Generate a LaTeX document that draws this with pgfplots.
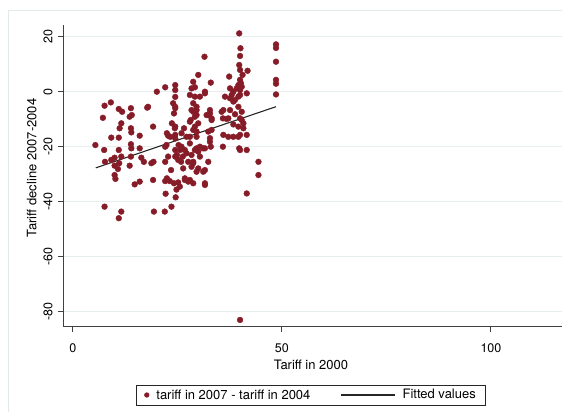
\documentclass[border=0pt]{standalone}
\usepackage{fontspec}
\setmainfont{TeX Gyre Heros}
\usepackage{pgfplots}
\pgfplotsset{compat=1.18}
\definecolor{mk}{RGB}{134,28,40}
\definecolor{gridc}{RGB}{230,238,240}
\definecolor{framec}{RGB}{226,234,236}
\begin{document}
\begin{tikzpicture}
\useasboundingbox (0pt,0pt) rectangle (562pt,412pt);
\draw[framec, line width=0.8pt] (8pt,0pt) -- (8pt,402pt) -- (562pt,402pt);
\begin{axis}[
  at={(63.3pt,85.3pt)}, anchor=south west,
  scale only axis, width=498.7pt, height=301.7pt,
  xmin=-2.27, xmax=117, ymin=-85.45, ymax=24.25,
  axis x line*=bottom, axis y line*=left,
  axis line style={black!75, line width=1pt, -},
  xtick={0,50,100},
  ytick={-80,-60,-40,-20,0,20},
  tick align=outside, major tick length=5pt,
  tick style={black!75, line width=1pt},
  ymajorgrids, grid style={gridc, line width=1pt},
  /pgf/number format/assume math mode=true,
  tick label style={font=\fontsize{12.5}{14}\selectfont},
  yticklabel style={rotate=90, anchor=south, inner sep=5.5pt},
  xticklabel style={anchor=north, inner sep=0pt, yshift=-11.8pt},
  xlabel={Tariff in 2000},
  ylabel={Tariff decline 2007-2004},
  label style={font=\fontsize{13}{15}\selectfont},
  xlabel style={at={(axis description cs:0.4967,-0.1253)}, anchor=center},
  ylabel style={at={(axis description cs:-0.0634,0.526)}, anchor=center},
  legend columns=2,
  legend style={at={(axis description cs:0.4967,-0.2264)}, anchor=center,
    draw=black!85, line width=0.8pt, inner xsep=8pt, inner ysep=2.5pt,
    font=\fontsize{13}{15}\selectfont,
    /tikz/every odd column/.append style={column sep=5pt},
    /tikz/every even column/.append style={column sep=28pt}},
]
\addplot[only marks, mark=*, mark size=2.9pt, color=mk,
  mark options={draw=none, fill=mk},
  legend image code/.code={\fill[mk] (0pt,0pt) circle (2.2pt);}]
table {
x y
7.6 -5.1
9.1 -3.9
7.2 -9.5
11.0 -6.3
11.8 -7.3
13.9 -6.0
13.6 -9.1
17.8 -5.8
11.6 -11.5
11.2 -13.3
9.2 -16.7
11.0 -16.7
13.9 -13.3
14.0 -14.8
16.0 -16.0
19.2 -12.7
5.4 -19.4
7.5 -21.2
11.0 -21.2
13.9 -19.1
14.0 -20.6
16.0 -20.6
10.0 -24.0
9.2 -24.8
11.6 -23.6
13.9 -23.6
16.4 -24.0
17.0 -25.5
18.8 -26.0
10.0 -26.9
13.6 -26.9
10.8 -28.1
10.0 -30.3
10.2 -31.7
14.8 -33.7
16.0 -32.7
19.2 -32.1
7.6 -41.8
11.6 -43.6
11.0 -46.0
19.4 -43.6
22.0 -43.6
22.2 -37.1
24.6 -38.4
23.6 -41.8
22.1 -32.5
23.2 -32.5
24.2 -33.3
25.2 -33.0
24.8 -35.6
23.5 -28.5
22.4 -19.4
22.8 -16.0
24.4 -13.3
24.5 -6.0
24.2 -7.9
24.5 -17.0
24.5 -21.2
24.5 -23.6
25.3 -19.4
7.7 -25.5
11.1 -26.0
19.3 -25.5
20.1 0.0
22.1 1.6
24.5 2.4
24.5 0.6
24.5 -1.9
18.0 -5.5
14.1 -8.5
24.5 -5.5
24.0 -4.2
23.7 -11.5
22.5 -15.1
22.1 -20.0
22.8 -23.6
25.2 -24.8
22.5 -31.5
25.6 -34.5
25.7 -21.2
24.9 -23.0
25.9 -25.5
27.2 -22.4
29.2 -21.2
30.0 -21.8
27.6 -25.5
28.8 -26.0
28.4 -27.3
22.1 -25.5
26.8 -32.1
27.6 -32.7
28.8 -33.3
31.6 -33.3
32.4 -25.5
31.2 -29.1
29.6 -29.1
28.0 -1.2
29.2 -1.8
28.8 -4.2
28.4 -6.7
29.6 -6.7
29.2 -9.1
28.0 -10.9
30.0 -11.5
28.8 -13.9
27.2 -16.4
29.6 -16.4
28.0 -18.8
26.8 -21.2
29.6 -20.6
28.4 -23.0
30.4 -23.6
28.8 -25.5
30.0 -27.9
31.6 -28.5
26.8 -31.5
28.0 -32.1
31.6 -33.9
31.6 -20.6
32.8 -18.2
33.2 -13.9
32.4 -8.5
32.8 -6.7
26.0 -15.1
26.0 -20.0
26.3 -23.6
26.4 -27.9
31.5 12.7
30.0 6.1
28.8 3.6
29.2 1.6
31.6 0.0
33.0 3.3
29.6 -5.5
28.8 -7.3
29.6 -8.5
32.0 -8.5
33.2 -9.7
28.2 -10.3
29.2 -12.7
26.6 -13.3
24.5 -12.7
29.6 -14.5
28.0 -16.4
24.5 -15.7
23.3 -16.4
32.4 -14.5
30.4 -20.0
28.4 1.2
30.4 -1.8
31.6 -0.6
39.8 21.2
40.1 15.8
40.0 13.0
39.8 9.7
40.0 7.9
40.6 6.1
41.8 7.6
40.0 4.3
37.4 5.5
39.6 2.4
40.4 1.8
37.6 1.2
38.4 0.0
40.0 0.6
41.6 -0.6
40.0 -1.2
37.6 -2.4
38.4 -3.6
39.6 -5.5
40.4 -7.3
36.0 -6.7
35.9 -9.7
37.2 -9.7
40.0 -9.7
40.8 -11.5
39.6 -12.7
36.0 -15.7
37.2 -16.4
38.4 -16.4
40.0 -15.7
41.6 -15.7
35.9 -20.0
40.0 -21.2
41.6 -21.2
44.4 -25.5
44.4 -30.3
41.6 -37.0
40.0 -83.0
35.6 -7.3
37.6 -6.7
38.8 -8.2
36.8 -9.9
40.4 -10.3
38.4 -11.9
40.8 -13.3
39.6 -16.4
39.8 -20.6
32.8 -7.9
33.2 -10.3
32.8 -16.9
33.0 -20.0
31.2 -20.6
36.4 -1.8
38.0 -1.2
38.8 -3.0
39.2 1.2
39.6 -1.8
40.2 3.1
48.6 17.2
48.6 15.9
48.6 10.9
48.6 4.3
48.6 2.9
48.6 -1.0
};
\addlegendentry{tariff in 2007 - tariff in 2004}
\addplot[black!85, line width=1.1pt,
  legend image code/.code={\draw[black!85, line width=1.1pt] (0pt,0pt) -- (54pt,0pt);}]
coordinates {(5.5,-27.7) (48.6,-5.45)};
\addlegendentry{Fitted values}
\end{axis}
\end{tikzpicture}
\end{document}
